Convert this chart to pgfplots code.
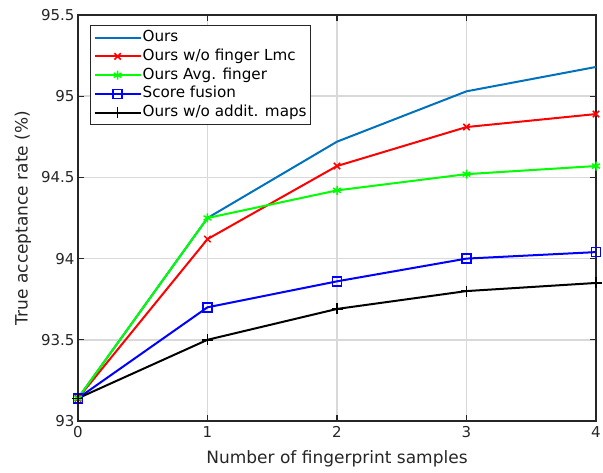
\documentclass[border=0pt]{standalone}
\usepackage{fontspec}
\setmainfont{DejaVu Sans}
\usepackage{pgfplots}
\pgfplotsset{compat=1.18}
\definecolor{mblue}{rgb}{0,0.447,0.741}
\definecolor{axgray}{gray}{0.15}
\begin{document}
\begin{tikzpicture}
\begin{axis}[
  scale only axis,
  width=518pt, height=406pt,
  xmin=0, xmax=4, ymin=93, ymax=95.5,
  xtick={0,1,2,3,4},
  ytick={93,93.5,94,94.5,95,95.5},
  yticklabels={93,93.5,94,94.5,95,95.5},
  grid=major,
  major grid style={black!15, line width=1.5pt},
  tick align=inside,
  major tick length=6pt,
  axis line style={line width=1.2pt, axgray},
  tick style={line width=1.2pt, axgray},
  /pgf/number format/assume math mode=true,
  tick label style={font=\fontsize{15}{18}\selectfont, text=axgray},
  xticklabel style={yshift=-2pt},
  every axis x label/.style={at={(axis description cs:0.5,0)}, yshift=-37.5pt, anchor=center,
     font=\fontsize{17}{20}\selectfont, text=axgray},
  every axis y label/.style={at={(axis description cs:0,0.5)}, xshift=-55pt, rotate=90, anchor=center,
     font=\fontsize{17}{20}\selectfont, text=axgray},
  xlabel={Number of fingerprint samples},
  ylabel={True acceptance rate (\%)},
  legend style={at={(rel axis cs:0,1)}, xshift=12pt, yshift=-10pt, anchor=north west,
    font=\fontsize{15.2}{18}\selectfont,
    draw=axgray, line width=1.2pt, row sep=1.8pt, inner xsep=3pt, inner ysep=3.5pt,
    nodes={inner sep=1pt, text height=11.5pt, text depth=3.5pt}},
  legend cell align=left,
  legend image code/.code={\draw[mark repeat=2,mark phase=2,#1] plot coordinates {(0pt,0pt) (23pt,0pt) (46pt,0pt)};},
  every axis plot/.append style={line width=2pt},
]
\coordinate (O) at (rel axis cs:0,0);
\addplot[color=mblue] coordinates {(0,93.14) (1,94.25) (2,94.72) (3,95.03) (4,95.18)};
\addlegendentry{Ours}
\addplot[color=red, mark=x, mark size=4.5pt, mark options={line width=1.5pt}] coordinates {(0,93.14) (1,94.12) (2,94.57) (3,94.81) (4,94.89)};
\addlegendentry{Ours w/o finger Lmc}
\addplot[color=green, mark=asterisk, mark size=4.5pt, mark options={line width=1.5pt}] coordinates {(0,93.14) (1,94.25) (2,94.42) (3,94.52) (4,94.57)};
\addlegendentry{Ours Avg. finger}
\addplot[color=blue, mark=square, mark size=4.5pt, mark options={line width=1.5pt}] coordinates {(0,93.14) (1,93.70) (2,93.86) (3,94.00) (4,94.04)};
\addlegendentry{Score fusion}
\addplot[color=black, mark=+, mark size=5.5pt, mark options={line width=1.5pt}] coordinates {(0,93.14) (1,93.50) (2,93.69) (3,93.80) (4,93.85)};
\addlegendentry{Ours w/o addit. maps}
\end{axis}
\pgfresetboundingbox
\path (O) ++(-78pt,-52pt) rectangle ++(603pt,473pt);
\end{tikzpicture}
\end{document}
